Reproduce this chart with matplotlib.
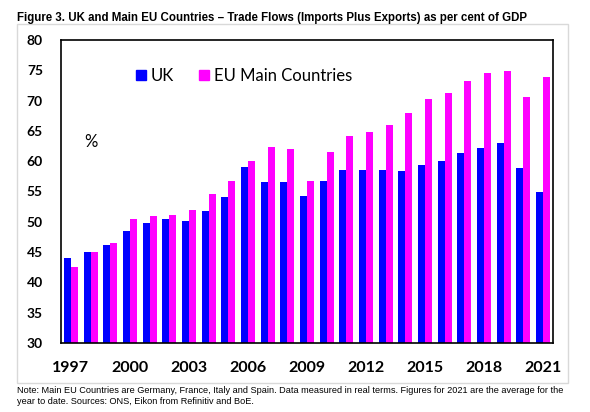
import numpy as np
import matplotlib
matplotlib.use("Agg")
import matplotlib.pyplot as plt
from matplotlib.patches import Patch, Rectangle

# data (per cent of GDP)
years = list(range(1997, 2022))
uk = [44.0, 45.0, 46.2, 48.5, 49.8, 50.5, 50.1, 51.8, 54.1, 59.0, 56.6, 56.6, 54.3,
      56.7, 58.5, 58.5, 58.5, 58.4, 59.4, 60.0, 61.4, 62.2, 63.0, 58.9, 54.9]
eu = [42.5, 45.0, 46.5, 50.5, 51.0, 51.1, 52.0, 54.6, 56.7, 60.0, 62.3, 62.0, 56.7,
      61.5, 64.2, 64.8, 66.0, 68.0, 70.3, 71.3, 73.2, 74.6, 74.9, 70.6, 73.9]
tick_years = [1997, 2000, 2003, 2006, 2009, 2012, 2015, 2018, 2021]

title = ("Figure 3. UK and Main EU Countries \u2013 Trade Flows (Imports Plus Exports) "
         "as per cent of GDP")
note = ("Note: Main EU Countries are Germany, France, Italy and Spain. Data measured in real "
        "terms. Figures for 2021 are the average for the\nyear to date. Sources: ONS, Eikon "
        "from Refinitiv and BoE.")

W, H = 590, 412
fig = plt.figure(figsize=(W / 100, H / 100), dpi=100)

def fx(px):
    return px / W

def fy(py):
    return 1 - py / H

# light grey outer box
fig.patches.append(Rectangle((fx(17), fy(383)), fx(568) - fx(17), fy(24) - fy(383),
                             transform=fig.transFigure, fill=False,
                             edgecolor="#d9d9d9", lw=1.0))

ax = fig.add_axes([fx(61), fy(343), fx(553) - fx(61), fy(40) - fy(343)])

x = np.arange(len(years))
w = 0.355
ax.bar(x - w / 2, uk, width=w, color="#0000ff", bottom=0)
ax.bar(x + w / 2, eu, width=w, color="#ff00ff", bottom=0)

ax.set_xlim(-0.5, len(years) - 0.5)
ax.set_ylim(30, 80)
ax.set_yticks(range(30, 81, 5))
ax.set_xticks([years.index(y) for y in tick_years])
ax.set_xticklabels([str(y) for y in tick_years])
ax.tick_params(axis="both", length=0)
ax.tick_params(axis="y", pad=13)
ax.tick_params(axis="x", pad=13)
for lab in ax.get_yticklabels():
    lab.set_fontfamily("Lato")
    lab.set_fontweight("bold")
    lab.set_fontsize(10)
for lab in ax.get_xticklabels():
    lab.set_fontfamily("Lato")
    lab.set_fontweight("bold")
    lab.set_fontsize(11.5)
for s in ax.spines.values():
    s.set_linewidth(1.2)
    s.set_color("black")

handles = [Patch(color="#0000ff", label="UK"), Patch(color="#ff00ff", label="EU Main Countries")]
fig.legend(handles=handles, loc="center left", bbox_to_anchor=(fx(136), fy(76)),
           ncol=2, frameon=False, borderpad=0, borderaxespad=0,
           handlelength=0.6, handleheight=0.6, handletextpad=0.3, columnspacing=1.5,
           prop={"family": "Lato", "size": 12})

fig.text(fx(91), fy(142), "%", ha="center", va="center", family="Lato", fontsize=12)

fig.text(fx(17), fy(18), title, ha="left", va="center", family="Liberation Sans",
         fontweight="bold", fontsize=8.3)
fig.text(fx(17), fy(386), note, ha="left", va="top", family="Liberation Sans",
         fontsize=6.6, linespacing=1.25)

fig.savefig("out.png", dpi=100)
